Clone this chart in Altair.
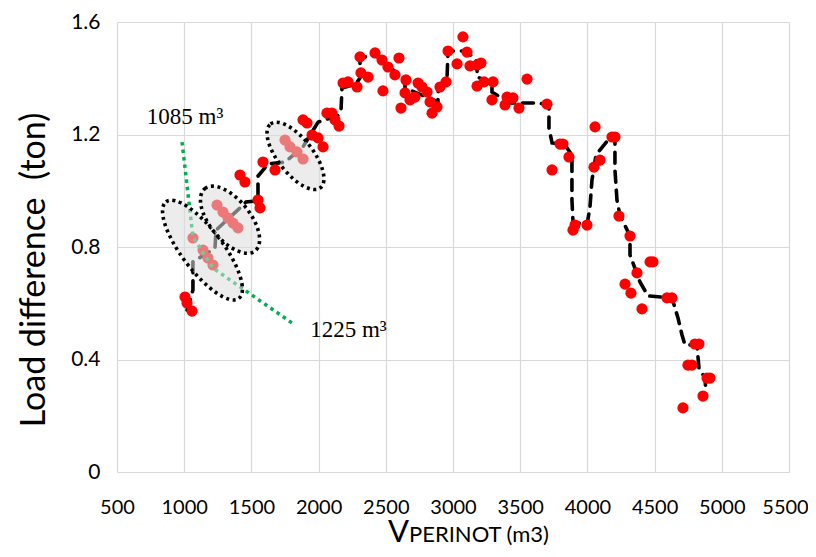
import altair as alt
import pandas as pd

# ---------------- data ----------------
pts_x = [1006, 1021, 1058, 1065, 1140, 1177, 1214, 1244, 1289, 1326, 1363, 1400,
         1415, 1452, 1549, 1564, 1586, 1676, 1750, 1787, 1839, 1884, 1884, 1914,
         1951, 1996, 2033, 2062, 2100, 2122, 2152, 2182, 2219, 2286, 2308, 2315,
         2368, 2420, 2472, 2516, 2568, 2598, 2650, 2479, 2613, 2643, 2680, 2717,
         2740, 2769, 2807, 2829, 2844, 2881, 2903, 2948, 2963, 3030, 3074, 3104,
         3126, 3179, 3208, 3179, 3231, 3298, 3290, 3402, 3387, 3446, 3491, 3551,
         3699, 3796, 3818, 3863, 3737, 3908, 3893, 3997, 4057, 4183, 4205, 4094,
         4049, 4235, 4317, 4466, 4488, 4369, 4280, 4324, 4406, 4592, 4629, 4800,
         4830, 4748, 4778, 4890, 4912, 4860, 4711]
pts_y = [0.622, 0.601, 0.572, 0.832, 0.789, 0.761, 0.736, 0.949, 0.924, 0.903, 0.885, 0.868,
         1.056, 1.031, 0.967, 0.939, 1.102, 1.074, 1.180, 1.156, 1.138, 1.113, 1.252, 1.241,
         1.198, 1.188, 1.156, 1.276, 1.276, 1.252, 1.230, 1.383, 1.387, 1.369, 1.476, 1.419,
         1.404, 1.490, 1.465, 1.440, 1.412, 1.472, 1.394, 1.355, 1.294, 1.348, 1.323, 1.333,
         1.383, 1.369, 1.351, 1.316, 1.276, 1.298, 1.369, 1.387, 1.497, 1.451, 1.547, 1.493,
         1.444, 1.447, 1.454, 1.372, 1.387, 1.387, 1.323, 1.333, 1.305, 1.330, 1.294, 1.397,
         1.308, 1.166, 1.166, 1.120, 1.074, 0.878, 0.860, 0.878, 1.227, 1.191, 1.191, 1.109,
         1.084, 0.910, 0.839, 0.747, 0.747, 0.708, 0.668, 0.636, 0.580, 0.619, 0.619, 0.455,
         0.455, 0.380, 0.380, 0.334, 0.334, 0.270, 0.228]

line_x = [1021, 1065, 1065, 1229, 1237, 1415, 1460, 1549, 1549, 1624, 1750, 1884, 1951,
          1996, 2152, 2167, 2174, 2278, 2308, 2308, 2420, 2643, 2643, 2888, 2888, 2955,
          2963, 3104, 3179, 3179, 3290, 3290, 3424, 3647, 3714, 3714, 3737, 3833, 3885,
          3885, 3893, 3997, 4019, 4034, 4064, 4094, 4183, 4205, 4205, 4220, 4242, 4317,
          4317, 4391, 4451, 4629, 4674, 4704, 4726, 4815, 4830, 4875, 4882]
line_y = [0.576, 0.647, 0.747, 0.796, 0.860, 0.939, 0.960, 0.964, 1.052, 1.095, 1.102, 1.156, 1.209,
          1.244, 1.269, 1.287, 1.365, 1.380, 1.401, 1.472, 1.483, 1.394, 1.365, 1.316, 1.351, 1.394,
          1.497, 1.497, 1.458, 1.404, 1.387, 1.351, 1.312, 1.312, 1.301, 1.223, 1.170, 1.163, 1.127,
          0.967, 0.889, 0.878, 0.942, 1.038, 1.127, 1.145, 1.198, 1.180, 1.074, 0.967, 0.914, 0.839,
          0.772, 0.676, 0.626, 0.619, 0.548, 0.487, 0.452, 0.452, 0.370, 0.334, 0.281]

green_x = [984, 1065, 1214, 1802]
green_y = [1.173, 0.836, 0.725, 0.530]

ell_x = [1136, 1341, 1828]
ell_y = [0.789, 0.897, 1.124]
ell_ratio = [0.34, 0.50, 0.43]

x_ticks = list(range(500, 5501, 500))
y_ticks = [0, 0.4, 0.8, 1.2, 1.6]

ann_text = ["1085 m\u00b3", "1225 m\u00b3"]
ann_x = [1006, 2222]
ann_y = [1.262, 0.505]

# ---------------- chart ----------------
FONT = "Lato"
xs = alt.Scale(domain=[500, 5500], nice=False, zero=False)
ys = alt.Scale(domain=[0, 1.6], nice=False, zero=False)

pts = pd.DataFrame({"x": pts_x, "y": pts_y})
ln = pd.DataFrame({"x": line_x, "y": line_y, "i": list(range(len(line_x)))})
gr = pd.DataFrame({"x": green_x, "y": green_y, "i": list(range(len(green_x)))})
ann = pd.DataFrame({"x": ann_x, "y": ann_y, "t": ann_text})

xaxis = alt.Axis(values=x_ticks, grid=True, gridColor="#d9d9d9", gridWidth=1.2,
                 domain=False, ticks=False, labelFont=FONT, labelFontSize=20,
                 labelColor="black", labelPadding=25, title=None, labelFlush=False,
                 labelOffset={"condition": {"test": "datum.value == 5500", "value": -4},
                              "value": 0},
                 labelExpr="toString(datum.value)")
yaxis = alt.Axis(values=y_ticks, grid=True, gridColor="#d9d9d9", gridWidth=1.2,
                 domain=False, ticks=False, labelFont=FONT, labelFontSize=21,
                 labelColor="black", labelPadding=17, title=None,
                 labelExpr="datum.value == 0 ? '0' : format(datum.value, '.1f')")

X = alt.X("x:Q", scale=xs, axis=xaxis)
Y = alt.Y("y:Q", scale=ys, axis=yaxis)

dash_line = alt.Chart(ln).mark_line(color="black", strokeWidth=3.6,
                                    strokeDash=[11, 8], strokeCap="round").encode(
    x=X, y=Y, order="i:Q")

base_pts = alt.Chart(pts).mark_circle(size=125, color="#ff0000", opacity=1).encode(
    x=X, y=Y)

green_line = alt.Chart(gr).mark_line(color="#00b050", strokeWidth=3.5,
                                     strokeDash=[3.5, 4]).encode(
    x=X, y=Y, order="i:Q")


def ellipse_path(b):
    k = 0.5523
    kb = round(k * b, 4)
    return (f"M -1 0 C -1 {-kb} {-k} {-b} 0 {-b} C {k} {-b} 1 {-kb} 1 0 "
            f"C 1 {kb} {k} {b} 0 {b} C {-k} {b} -1 {kb} -1 0 Z")


ell_major = [121, 80, 81]
ell_angle = [53, 51, 52]
ellipses = []
for ex, ey, r, L, a in zip(ell_x, ell_y, ell_ratio, ell_major, ell_angle):
    e = alt.Chart(pd.DataFrame({"x": [ex], "y": [ey]})).mark_point(
        shape=ellipse_path(r), size=L * L, angle=a, filled=True,
        fill="#dcdcdc", fillOpacity=0.55, stroke="black", strokeWidth=3.6,
        strokeDash=[3, 3.6], opacity=1,
    ).encode(x=X, y=Y)
    ellipses.append(e)

ann_text_layer = alt.Chart(ann).mark_text(font="Liberation Serif", fontSize=23,
                                          color="black", align="center",
                                          baseline="middle").encode(
    x=X, y=Y, text="t:N")

ytitle = alt.Chart(pd.DataFrame({"t": ["Load difference\u00a0 (ton)"]})).mark_text(
    font=FONT, fontSize=34, angle=270, align="center", baseline="middle", color="black"
).encode(x=alt.value(-82), y=alt.value(248), text="t:N")

xt1 = alt.Chart(pd.DataFrame({"t": ["V"]})).mark_text(
    font=FONT, fontSize=31, align="right", baseline="alphabetic", color="black"
).encode(x=alt.value(292), y=alt.value(520), text="t:N")
xt2 = alt.Chart(pd.DataFrame({"t": ["PERINOT (m3)"]})).mark_text(
    font=FONT, fontSize=22, align="left", baseline="alphabetic", color="black"
).encode(x=alt.value(292), y=alt.value(520), text="t:N")

chart = alt.layer(dash_line, base_pts, green_line, *ellipses,
                  ann_text_layer, ytitle, xt1, xt2).properties(
    width=672, height=450,
    autosize=alt.AutoSizeParams(type="none"),
    padding={"left": 109, "top": 14, "right": 19, "bottom": 77},
).configure(font=FONT).configure_view(stroke=None)

chart.save("out.html", embed_options={"renderer": "svg", "actions": False})
